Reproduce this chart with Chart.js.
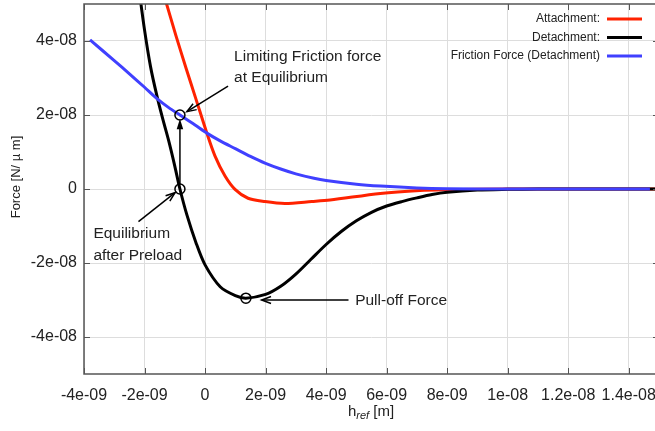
<!DOCTYPE html>
<html>
<head>
<meta charset="utf-8">
<script src="https://cdn.jsdelivr.net/npm/chart.js@4"></script>
<style>
  body { margin: 0; overflow: hidden; background: #fff; }
  canvas { display: block; }
</style>
</head>
<body>
<canvas id="myChart" width="660" height="431"></canvas>
<script>
// h_ref [m] and force [N/um]
const attachX = [-1.3e-9, -0.96e-9, -0.63e-9, -0.30e-9, 0.06e-9, 0.33e-9, 0.66e-9, 0.99e-9, 1.42e-9, 1.98e-9, 2.64e-9, 3.53e-9, 4.13e-9, 5.79e-9, 7.1e-9, 8.0e-9, 1.0e-8, 1.5e-8];
const attachF = [5.08e-8, 4.14e-8, 3.27e-8, 2.43e-8, 1.51e-8, 0.89e-8, 0.35e-8, -0.01e-8, -0.25e-8, -0.34e-8, -0.39e-8, -0.34e-8, -0.30e-8, -0.12e-8, -0.04e-8, -0.02e-8, 0, 0];

const detachX = [-2.2e-9, -2.0e-9, -1.8e-9, -1.6e-9, -1.4e-9, -1.2e-9, -1.0e-9, -0.83e-9, -0.6e-9, -0.3e-9, 0, 0.5e-9, 1.0e-9, 1.35e-9, 2.0e-9, 2.5e-9, 3.0e-9, 3.5e-9, 4.0e-9, 4.5e-9, 5.0e-9, 5.5e-9, 6.0e-9, 6.5e-9, 7.0e-9, 7.5e-9, 8.0e-9, 9.0e-9, 1.0e-8, 1.1e-8, 1.5e-8];
const detachF = [5.5e-8, 4.3e-8, 3.3e-8, 2.55e-8, 1.9e-8, 1.3e-8, 0.62e-8, 0, -0.7e-8, -1.45e-8, -2.05e-8, -2.64e-8, -2.88e-8, -2.95e-8, -2.85e-8, -2.63e-8, -2.3e-8, -1.9e-8, -1.5e-8, -1.15e-8, -0.86e-8, -0.63e-8, -0.46e-8, -0.34e-8, -0.24e-8, -0.15e-8, -0.09e-8, -0.03e-8, -0.01e-8, 0, 0];

const frictionX = [-3.8e-9, -3.0e-9, -2.48e-9, -2.0e-9, -1.6e-9, -1.2e-9, -0.83e-9, -0.33e-9, 0.06e-9, 0.5e-9, 1.0e-9, 1.5e-9, 1.98e-9, 2.5e-9, 3.0e-9, 3.6e-9, 4.0e-9, 5.0e-9, 5.8e-9, 7.0e-9, 8.0e-9, 1.0e-8, 1.47e-8];
const frictionF = [4.03e-8, 3.47e-8, 3.1e-8, 2.75e-8, 2.45e-8, 2.2e-8, 2.0e-8, 1.73e-8, 1.51e-8, 1.3e-8, 1.09e-8, 0.88e-8, 0.70e-8, 0.54e-8, 0.41e-8, 0.29e-8, 0.23e-8, 0.13e-8, 0.08e-8, 0.03e-8, 0.01e-8, 0, 0];

// marked points: limiting friction, equilibrium, pull-off
const markX = [-0.83e-9, -0.83e-9, 1.35e-9];
const markF = [2.0e-8, 0, -2.95e-8];

const xTicks = [-4e-9, -2e-9, 0, 2e-9, 4e-9, 6e-9, 8e-9, 1e-8, 1.2e-8, 1.4e-8];
const yTicks = [-4e-8, -2e-8, 0, 2e-8, 4e-8];

const seriesNames = ["Attachment:", "Detachment:", "Friction Force (Detachment)"];
const seriesColors = ["#ff2200", "#000000", "#4040ff"];

// labels and arrows in data coordinates
const labels = [
    { text: "Limiting Friction force", x: 0.96e-9, y: 3.46e-8 },
    { text: "at Equilibrium", x: 0.96e-9, y: 2.89e-8 },
    { text: "Equilibrium", x: -3.69e-9, y: -1.32e-8 },
    { text: "after Preload", x: -3.69e-9, y: -1.92e-8 },
    { text: "Pull-off Force", x: 4.96e-9, y: -3.14e-8 }
];
const arrows = [
    { x1: 0.76e-9, y1: 2.78e-8, x2: -0.6e-9, y2: 2.09e-8, filled: false },
    { x1: -2.2e-9, y1: -0.88e-8, x2: -0.99e-9, y2: -0.1e-8, filled: false },
    { x1: 4.74e-9, y1: -3.0e-8, x2: 1.87e-9, y2: -3.0e-8, filled: false },
    { x1: -0.83e-9, y1: 0.12e-8, x2: -0.83e-9, y2: 1.9e-8, filled: true }
];

function pts(xs, ys) {
    var out = [];
    for (var i = 0; i < xs.length; i++) {
        out.push({ x: xs[i], y: ys[i] });
    }
    return out;
}

function gfmt(v) {
    if (Math.abs(v) < 1e-20) return "0";
    return v.toExponential().replace(/e([+-])(\d)$/, "e$10$2");
}

const FONT = "'Liberation Sans', Arial, sans-serif";

function drawArrow(ctx, x1, y1, x2, y2, filled) {
    var a = Math.atan2(y2 - y1, x2 - x1);
    var len = filled ? 11 : 10;
    var w = filled ? 0.3 : 0.35;
    ctx.beginPath();
    ctx.moveTo(x1, y1);
    ctx.lineTo(filled ? x2 - Math.cos(a) * 6 : x2, filled ? y2 - Math.sin(a) * 6 : y2);
    ctx.stroke();
    var ax = x2 - len * Math.cos(a - w), ay = y2 - len * Math.sin(a - w);
    var bx = x2 - len * Math.cos(a + w), by = y2 - len * Math.sin(a + w);
    ctx.beginPath();
    ctx.moveTo(ax, ay);
    ctx.lineTo(x2, y2);
    ctx.lineTo(bx, by);
    if (filled) {
        ctx.closePath();
        ctx.fill();
    } else {
        ctx.stroke();
    }
}

const extras = {
    id: "extras",
    afterDatasetsDraw(chart) {
        const ctx = chart.ctx;
        const xs = chart.scales.x, ys = chart.scales.y;
        const ca = chart.chartArea;
        ctx.save();
        // border and inward ticks
        ctx.strokeStyle = "#555";
        ctx.lineWidth = 1.5;
        ctx.strokeRect(ca.left, ca.top, ca.right - ca.left, ca.bottom - ca.top);
        ctx.lineWidth = 1;
        ctx.beginPath();
        xTicks.forEach(function (t) {
            var p = Math.round(xs.getPixelForValue(t)) + 0.5;
            ctx.moveTo(p, ca.bottom); ctx.lineTo(p, ca.bottom - 6);
            ctx.moveTo(p, ca.top); ctx.lineTo(p, ca.top + 6);
        });
        yTicks.forEach(function (t) {
            var p = Math.round(ys.getPixelForValue(t)) + 0.5;
            ctx.moveTo(ca.left, p); ctx.lineTo(ca.left + 6, p);
            ctx.moveTo(ca.right, p); ctx.lineTo(ca.right - 6, p);
        });
        ctx.stroke();

        // annotations
        ctx.fillStyle = "#222";
        ctx.font = "15.5px " + FONT;
        ctx.textAlign = "left";
        ctx.textBaseline = "alphabetic";
        labels.forEach(function (l) {
            ctx.fillText(l.text, xs.getPixelForValue(l.x), ys.getPixelForValue(l.y));
        });
        ctx.strokeStyle = "#000";
        ctx.fillStyle = "#000";
        ctx.lineWidth = 1.5;
        arrows.forEach(function (a) {
            drawArrow(ctx, xs.getPixelForValue(a.x1), ys.getPixelForValue(a.y1),
                xs.getPixelForValue(a.x2), ys.getPixelForValue(a.y2), a.filled);
        });

        // legend
        ctx.font = "12px " + FONT;
        ctx.textAlign = "right";
        ctx.textBaseline = "middle";
        ctx.lineWidth = 3;
        seriesNames.forEach(function (n, i) {
            var y = 19 + i * 18.5;
            ctx.fillStyle = "#222";
            ctx.fillText(n, 600, y);
            ctx.strokeStyle = seriesColors[i];
            ctx.beginPath();
            ctx.moveTo(607, y); ctx.lineTo(642, y);
            ctx.stroke();
        });

        // axis titles
        ctx.fillStyle = "#222";
        ctx.font = "13px " + FONT;
        ctx.textAlign = "center";
        ctx.textBaseline = "middle";
        ctx.save();
        ctx.translate(16, 177);
        ctx.rotate(-Math.PI / 2);
        ctx.fillText("Force [N/ \u00b5 m]", 0, 0);
        ctx.restore();

        ctx.textAlign = "left";
        ctx.textBaseline = "alphabetic";
        var base = 416;
        ctx.font = "15px " + FONT;
        var w1 = ctx.measureText("h").width;
        ctx.font = "italic 11px " + FONT;
        var w2 = ctx.measureText("ref").width;
        ctx.font = "15px " + FONT;
        var w3 = ctx.measureText(" [m]").width;
        var x0 = 371 - (w1 + w2 + w3) / 2;
        ctx.fillText("h", x0, base);
        ctx.font = "italic 11px " + FONT;
        ctx.fillText("ref", x0 + w1, base + 3);
        ctx.font = "15px " + FONT;
        ctx.fillText(" [m]", x0 + w1 + w2, base);
        ctx.restore();
    }
};

function lineSet(name, xs, ys, color, order) {
    return {
        label: name,
        data: pts(xs, ys),
        showLine: true,
        borderColor: color,
        borderWidth: 3,
        pointRadius: 0,
        tension: 0.3,
        order: order
    };
}

const CHART = document.getElementById("myChart");
let wykres = new Chart(CHART, {
    type: 'scatter',
    data: {
        datasets: [
            {
                label: 'marks',
                data: pts(markX, markF),
                showLine: false,
                pointRadius: 5,
                pointBorderWidth: 1.5,
                pointBorderColor: '#000',
                pointBackgroundColor: 'rgba(0,0,0,0)',
                order: 0
            },
            lineSet(seriesNames[2], frictionX, frictionF, seriesColors[2], 1),
            lineSet(seriesNames[1], detachX, detachF, seriesColors[1], 2),
            lineSet(seriesNames[0], attachX, attachF, seriesColors[0], 3)
        ]
    },
    options: {
        responsive: false,
        animation: false,
        layout: { autoPadding: false, padding: { left: 0, top: 4, right: 1, bottom: 0 } },
        plugins: {
            legend: { display: false },
            tooltip: { enabled: false }
        },
        scales: {
            x: {
                type: 'linear',
                min: -4e-9,
                max: 1.5e-8,
                afterFit: function (s) { s.height = 57; s.paddingLeft = 0; s.paddingRight = 0; },
                afterBuildTicks: function (s) { s.ticks = xTicks.map(function (v) { return { value: v }; }); },
                border: { display: false },
                grid: { color: '#dddddd', lineWidth: 1, drawTicks: false },
                ticks: {
                    padding: 12,
                    color: '#222',
                    font: { size: 16, family: FONT },
                    maxRotation: 0,
                    autoSkip: false,
                    callback: function (v) { return gfmt(v); }
                }
            },
            y: {
                type: 'linear',
                min: -5e-8,
                max: 5e-8,
                afterFit: function (s) { s.width = 84; s.paddingTop = 0; s.paddingBottom = 0; },
                afterBuildTicks: function (s) { s.ticks = yTicks.map(function (v) { return { value: v }; }); },
                border: { display: false },
                grid: { color: '#dddddd', lineWidth: 1, drawTicks: false },
                ticks: {
                    padding: 7,
                    color: '#222',
                    font: { size: 16, family: FONT },
                    autoSkip: false,
                    callback: function (v) { return gfmt(v); }
                }
            }
        }
    },
    plugins: [extras]
});
</script>
</body>
</html>
